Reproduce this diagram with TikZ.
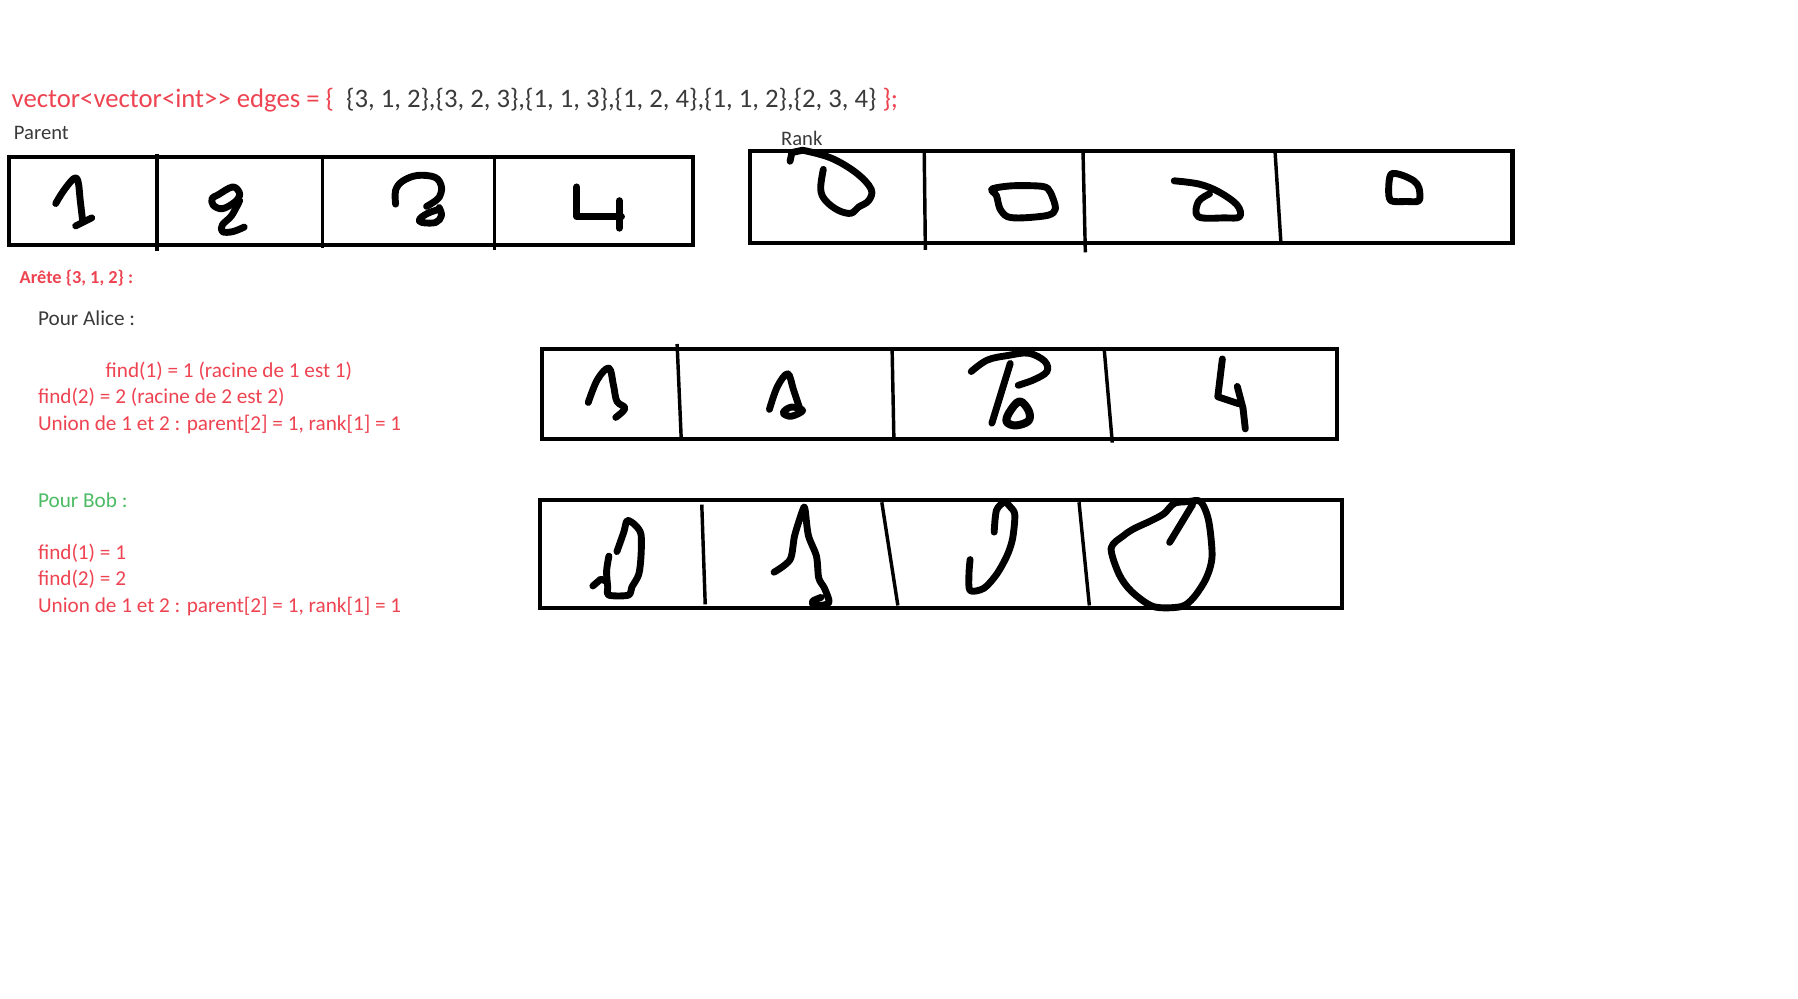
\documentclass[tikz,border=0pt]{standalone}
\usepackage{fontspec}
\setmainfont{Carlito}[Ligatures=TeXOff]
\definecolor{nred}{HTML}{EE4452}
\definecolor{ngray}{HTML}{3A3A3A}
\definecolor{ngreen}{HTML}{4CBB64}
\begin{document}
\begin{tikzpicture}[x=1pt,y=-1pt,
 txt/.style={anchor=base west, inner sep=0pt},
 body/.style={txt, font=\fontsize{18.5}{22}\selectfont},
 frame/.style={line width=3.6pt},
 sepline/.style={line width=3pt},
 ink/.style={line width=6pt, line cap=round, line join=round}]
\useasboundingbox[fill=white] (0,0) rectangle (1568,871);

% texts
\node[txt, text=nred, font=\fontsize{23.3}{28}\selectfont] (title) at (10,94)
 {vector<vector<int>{}> edges = \{\ \ \textcolor{ngray}{\{3, 1, 2\},\{3, 2, 3\},\{1, 1, 3\},\{1, 2, 4\},\{1, 1, 2\},\{2, 3, 4\}} \};};
\node[body, text=ngray, font=\fontsize{18}{22}\selectfont] (parent) at (12,122) {Parent};
\node[body, text=ngray, font=\fontsize{18}{22}\selectfont] (rank) at (681,127) {Rank};
\node[txt, text=nred, font=\fontsize{16}{20}\selectfont\bfseries] (arete) at (17,247) {Arête \{3, 1, 2\} :};
\node[body, text=ngray] (alice) at (33,284) {Pour Alice :};
\node[body, text=nred] (af1) at (92,329) {find(1) = 1 (racine de 1 est 1)};
\node[body, text=nred] (af2) at (33,352) {find(2) = 2 (racine de 2 est 2)};
\node[body, text=nred] (au) at (33,375) {Union de 1 et 2 : parent[2] = 1, rank[1] = 1};
\node[body, text=ngreen] (bob) at (33,443) {Pour Bob :};
\node[body, text=nred] (bf1) at (33,488) {find(1) = 1};
\node[body, text=nred] (bf2) at (33,511) {find(2) = 2};
\node[body, text=nred] (bu) at (33,534) {Union de 1 et 2 : parent[2] = 1, rank[1] = 1};

% ---------- Parent box ----------
\draw[frame] (8,137) rectangle (604,214);
\draw[sepline] (137,134) -- (137,219);
\draw[sepline] (281,135) -- (281,216);
\draw[sepline] (431,135) -- (431,218);
\draw[ink] plot[smooth, tension=0.6] coordinates {(48.6,177.5) (55,167) (64,156) (68,158) (70,175) (72,192)};
\draw[ink] (66,197) -- (80,190);
\draw[ink] plot[smooth cycle, tension=0.6] coordinates {(190,170) (203,163) (209,169) (205,176) (194,182) (186,179) (185,173)};
\draw[ink] plot[smooth, tension=0.6] coordinates {(209,175) (202,188) (194,196) (194,202) (203,202) (213,198)};
\draw[ink] plot[smooth, tension=0.6] coordinates {(345,178) (345,166) (351,158) (364,153) (379.5,154.7) (385,163) (383,172) (377,177) (372,180)};
\draw[ink] plot[smooth, tension=0.6] coordinates {(383,181) (385,188) (380,194) (368,194) (366,191) (373,186) (383,182.5)};
\draw[ink] (503,163) -- (503,189) -- (542,189);
\draw[ink] (540,175) -- (540,199);

% ---------- Rank box ----------
\draw[frame] (654,132) rectangle (1319,212);
\draw[sepline] (806,133) -- (807,218);
\draw[sepline] (944.5,133) -- (946.5,220);
\draw[sepline] (1112,133) -- (1117,211);
\draw[ink] (689,140.6) -- (690.6,133) -- (700,131);
\draw[ink] plot[smooth, tension=0.6] coordinates {(700,131) (724.5,137.7) (746.5,150.6) (759.7,164.9) (757.5,175) (748.7,180.6) (742,186) (731,183.4) (720,175) (715.7,165) (718,147.7)};
\draw[ink] plot[smooth cycle, tension=0.5] coordinates {(865,164.9) (883,162) (909.4,162.6) (916,167.7) (920.5,182) (914,187.7) (891.8,190) (878.6,189) (872,182) (869,170.6)};
\draw[ink] plot[smooth, tension=0.6] coordinates {(1024,157.7) (1046,160.6) (1063.6,167.7) (1079,179) (1081,189) (1068,190) (1045,189) (1045,176) (1054.8,169)};
\draw[ink] plot[smooth cycle, tension=0.5] coordinates {(1213,152) (1222,152.5) (1233,157.7) (1237.5,164) (1237.5,175) (1226.5,175.7) (1213,175) (1211,165)};

% ---------- Alice box ----------
\draw[frame] (473,304) rectangle (1166,383);
\draw[sepline] (590.5,300) -- (594,381);
\draw[sepline] (778,305) -- (779.5,381);
\draw[sepline] (963,305) -- (970,386);
\draw[ink] plot[smooth, tension=0.6] coordinates {(513,351) (521,331) (531,321) (535,336) (538,350) (545,356) (537,364)};
\draw[ink] plot[smooth, tension=0.6] coordinates {(671,357) (678,337) (687,326) (692,340) (698,358)};
\draw[ink] plot[smooth cycle, tension=0.6] coordinates {(690,363) (683,360) (690,355) (700,358)};
\draw[ink] plot[smooth, tension=0.6] coordinates {(847,324) (861,314) (879,310) (897,308) (911,315) (913,324) (902,331) (888,336)};
\draw[ink] (881,317) -- (865,369);
\draw[ink, line width=7pt] plot[smooth cycle, tension=0.6] coordinates {(889,350) (897,358) (897,367) (886,371) (878,368) (880,360)};
\draw[ink] (1066,313) -- (1062,346) -- (1080,352);
\draw[ink] (1079,337) -- (1084,356) -- (1086,374);

% ---------- Bob box ----------
\draw[frame] (471,436) rectangle (1170,530);
\draw[sepline] (612,440) -- (615,527);
\draw[sepline] (769,438) -- (783,528);
\draw[sepline] (941,438) -- (950,528);
\draw[ink] plot[smooth, tension=0.5] coordinates {(538,481) (544,464) (547,454) (554,458) (559,466) (559,485) (557,501) (551,512) (548,519) (531,519) (530,512) (529,498) (531,485)};
\draw[ink] (517,511) -- (524,505) -- (529,507);
\draw[ink] plot[smooth, tension=0.5] coordinates {(675,499) (689,488) (693,467) (700,445) (702,444) (705,467) (712,485) (714,504) (719,513) (723,525) (716,528) (709,527) (709,524) (716,521)};
\draw[ink] plot[smooth, tension=0.5] coordinates {(867,464) (869,445) (876,438) (881,442) (885,449) (883,470) (878,485) (869,501) (858,513) (846,515) (845,501) (846,488)};
\draw[ink] plot[smooth cycle, tension=0.5] coordinates {(969,478) (980,467) (989,461) (1003,454.5) (1015,448) (1024,439) (1036,437.5) (1047,437.5) (1054,454) (1057,485) (1052,504) (1041,521) (1030,529) (1006,529) (987,516) (976,501)};
\draw[ink] (1020,473) -- (1040,440);
\end{tikzpicture}
\end{document}
